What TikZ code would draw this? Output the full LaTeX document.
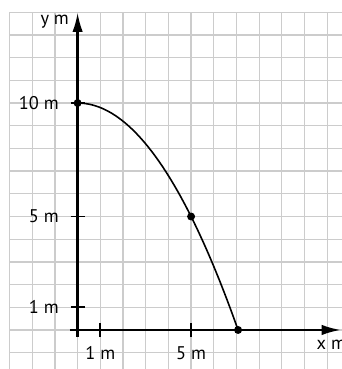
\documentclass[tikz,border=0pt]{standalone}
\usepackage{fontspec}
\setmainfont{PT Sans}
\usetikzlibrary{arrows.meta}
\tikzset{
	gridline/.style={line width=0.8pt, gray!40},
	axis/.style={line width=1.4pt, -{Latex[length=12pt,width=6.5pt]}},
	tick/.style={line width=1.1pt},
	curve/.style={line width=1pt},
	dot/.style={circle, fill=black, inner sep=0pt, minimum size=5pt},
	lbl/.style={font=\fontsize{11.5}{13}\selectfont, inner sep=1pt}
}
\begin{document}
\begin{tikzpicture}[x=0.5cm, y=0.5cm]
		\useasboundingbox (-3.42, -1.72) rectangle (11.64, 14.54);
		\fill[white] (-3.42, -1.72) rectangle (11.64, 14.54);
		\draw[gridline, step=1] (-3, -1.72) grid (11.64, 14);
		% axes
		\draw[axis] (-0.34, 0) -- (11.6, 0);
		\draw[axis] (0, -0.3) -- (0, 13.98);
		\foreach \i in {1, 5, 10}{
			\draw[tick] (-0.31, \i) -- (0.31, \i);
		}
		\foreach \i in {1, 5}{
			\draw[tick] (\i, -0.31) -- (\i, 0.31);
		}
		% labels
		\node[lbl, anchor=east] (ylab) at (-0.3, 13.6) {y m};
		\node[lbl, anchor=west] (xlab) at (10.45, -0.66) {x m};
		\node[lbl, anchor=east] (y10) at (-0.75, 10) {10 m};
		\node[lbl, anchor=east] (y5) at (-0.75, 5) {5 m};
		\node[lbl, anchor=east] (y1) at (-0.75, 1) {1 m};
		\node[lbl] (x1) at (1, -1.02) {1 m};
		\node[lbl] (x5) at (5, -1.02) {5 m};
		% path
		\draw[curve] plot[domain=0:7.071, samples=60] (\x, {10 - \x*\x/5});
		\node[dot] (top) at (0, 10) {};
		\node[dot] (mid) at (5, 5) {};
		\node[dot] (land) at (7.071, 0) {};
	\end{tikzpicture}
\end{document}
